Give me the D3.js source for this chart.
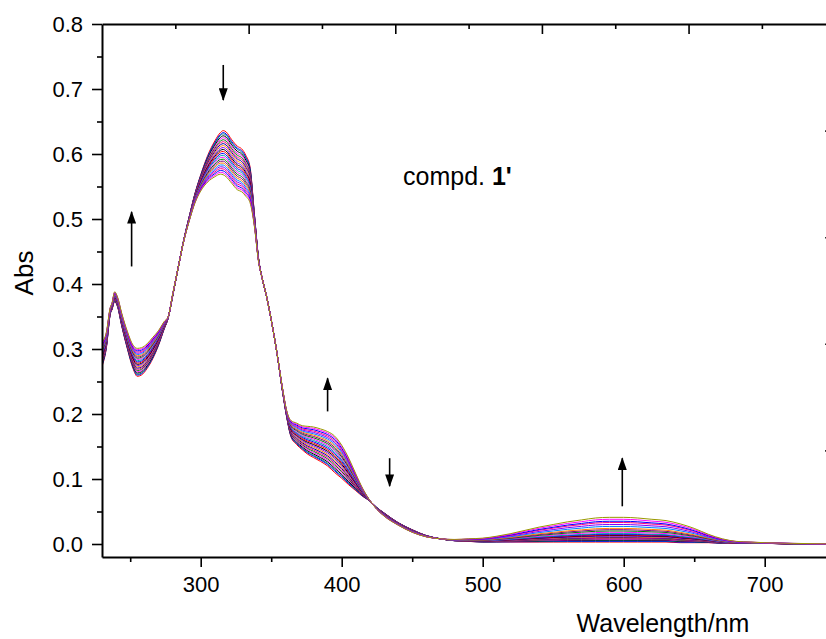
<!DOCTYPE html>
<html lang="en">
<head>
<meta charset="UTF-8">
<title>compd. 1' absorption spectra</title>
<script src="https://cdn.jsdelivr.net/npm/d3@7"></script>
<style>
    body { margin: 0; background: #fff; }
    svg text { font-family: "Liberation Sans", Arial, sans-serif; fill: #000; }
</style>
</head>
<body>
<svg id="chart" width="826" height="639"></svg>
<script>
    // wavelength grid (nm) and the first / last scans
    var wavelengths = [230, 233, 236, 237, 239, 241, 244, 248, 252, 255, 258, 262, 266, 270, 274, 277, 280, 284, 288, 292,
        296, 300, 305, 310, 314, 316, 318, 322, 326, 329, 332, 335, 338, 341, 344, 347, 350, 354, 358, 361,
        364, 368, 372, 376, 380, 385, 390, 395, 400, 405, 410, 415, 420, 425, 430, 440, 450, 460, 470, 480,
        490, 500, 510, 520, 530, 540, 550, 560, 570, 580, 590, 600, 610, 620, 630, 640, 650, 660, 670, 680,
        690, 700, 720, 750];

    var absFirst = [0.273, 0.300, 0.355, 0.360, 0.373, 0.365, 0.335, 0.300, 0.270, 0.258, 0.260, 0.270, 0.285, 0.305, 0.330, 0.348, 0.380, 0.425, 0.468, 0.505,
        0.540, 0.568, 0.598, 0.620, 0.633, 0.636, 0.634, 0.622, 0.612, 0.608, 0.598, 0.580, 0.510, 0.440, 0.405, 0.378, 0.345, 0.295, 0.235, 0.195,
        0.165, 0.153, 0.145, 0.138, 0.133, 0.127, 0.120, 0.110, 0.101, 0.091, 0.082, 0.073, 0.066, 0.056, 0.048, 0.033, 0.022, 0.013, 0.008, 0.005,
        0.004, 0.003, 0.003, 0.003, 0.003, 0.003, 0.003, 0.003, 0.003, 0.003, 0.003, 0.003, 0.003, 0.003, 0.003, 0.002, 0.002, 0.002, 0.001, 0.001,
        0.001, 0.001, 0.000, 0.000];

    var absLast = [0.310, 0.325, 0.365, 0.370, 0.388, 0.380, 0.355, 0.327, 0.306, 0.301, 0.302, 0.308, 0.318, 0.328, 0.342, 0.350, 0.383, 0.425, 0.466, 0.498,
        0.525, 0.543, 0.557, 0.565, 0.569, 0.568, 0.565, 0.555, 0.545, 0.542, 0.535, 0.525, 0.490, 0.435, 0.405, 0.378, 0.345, 0.295, 0.240, 0.205,
        0.190, 0.186, 0.182, 0.181, 0.180, 0.177, 0.173, 0.166, 0.152, 0.132, 0.108, 0.085, 0.067, 0.053, 0.043, 0.029, 0.018, 0.011, 0.008, 0.007,
        0.008, 0.009, 0.012, 0.016, 0.021, 0.026, 0.030, 0.034, 0.037, 0.040, 0.041, 0.041, 0.040, 0.038, 0.036, 0.031, 0.024, 0.015, 0.008, 0.004,
        0.003, 0.002, 0.001, 0.000];

    // per scan: absorbance read at 316 nm and at 600 nm
    var peak316 = [0.636, 0.633, 0.631, 0.628, 0.625, 0.622, 0.619, 0.616, 0.613, 0.610, 0.607, 0.604,
        0.601, 0.598, 0.595, 0.592, 0.589, 0.586, 0.583, 0.580, 0.577, 0.574, 0.571, 0.568];
    var band600 = [0.003, 0.004, 0.005, 0.006, 0.007, 0.008, 0.009, 0.010, 0.011, 0.012, 0.013, 0.014,
        0.015, 0.016, 0.018, 0.020, 0.022, 0.024, 0.027, 0.030, 0.033, 0.035, 0.038, 0.041];

    var traceColors = ["#FF0000", "#0000FF", "#008080", "#000000", "#FF00FF", "#008000", "#FF0080", "#0000A0",
        "#FF8000", "#8000FF", "#000000", "#FF0000", "#0000FF", "#00A0A0", "#FF00FF", "#008000",
        "#800080", "#FF8000", "#0080FF", "#8000FF", "#FF0080", "#0000FF", "#FF00FF", "#999900"];

    var xTicks = [300, 400, 500, 600, 700];
    var xMinor = [250, 350, 450, 550, 650, 750];
    var yTicks = [0.0, 0.1, 0.2, 0.3, 0.4, 0.5, 0.6, 0.7, 0.8];
    var yMinor = [0.05, 0.15, 0.25, 0.35, 0.45, 0.55, 0.65, 0.75];

    // arrows: wavelength, tail absorbance, head absorbance
    var arrows = [
        { w: 251, from: 0.427, to: 0.511 },
        { w: 316, from: 0.737, to: 0.683 },
        { w: 390, from: 0.204, to: 0.255 },
        { w: 434, from: 0.132, to: 0.089 },
        { w: 599, from: 0.058, to: 0.132 }
    ];

    var svg = d3.select("#chart");
    var x = d3.scaleLinear().domain([230, 750]).range([102, 835.2]);
    var y = d3.scaleLinear().domain([-0.02, 0.8]).range([557, 24]);

    var p0 = peak316[0], p1 = peak316[peak316.length - 1];
    var b0 = band600[0], b1 = band600[band600.length - 1];
    var traces = peak316.map(function (p, i) {
        var fUV = (p0 - p) / (p0 - p1);
        var fVis = (band600[i] - b0) / (b1 - b0);
        return wavelengths.map(function (w, j) {
            var f = w < 465 ? fUV : fVis;
            return { w: w, a: absFirst[j] + f * (absLast[j] - absFirst[j]) };
        });
    });

    var defs = svg.append("defs");
    defs.append("clipPath").attr("id", "plotClip")
        .append("rect")
        .attr("x", x(230)).attr("y", y(0.8))
        .attr("width", x(750) - x(230)).attr("height", y(-0.02) - y(0.8));

    defs.append("marker")
        .attr("id", "head")
        .attr("viewBox", "0 0 14 10")
        .attr("refX", 13).attr("refY", 5)
        .attr("markerWidth", 13).attr("markerHeight", 9)
        .attr("markerUnits", "userSpaceOnUse")
        .attr("orient", "auto")
        .append("path")
        .attr("d", "M0,0 L14,5 L0,10 Z")
        .attr("fill", "#000");

    var line = d3.line()
        .x(function (d) { return x(d.w); })
        .y(function (d) { return y(d.a); })
        .curve(d3.curveMonotoneX);

    svg.append("g")
        .attr("clip-path", "url(#plotClip)")
        .selectAll("path")
        .data(traces)
        .enter().append("path")
        .attr("d", line)
        .attr("fill", "none")
        .attr("stroke-width", 1)
        .attr("stroke", function (d, i) { return traceColors[i]; });

    // axes
    function styleAxis(g) {
        g.selectAll(".domain").attr("stroke", "#000").attr("stroke-width", 2);
        g.selectAll(".tick line").attr("stroke", "#000").attr("stroke-width", 1.6);
        g.selectAll(".tick text").style("font-size", "22px");
    }

    svg.append("g")
        .attr("transform", "translate(0," + y(-0.02) + ")")
        .call(d3.axisBottom(x).tickValues(xTicks).tickSize(10).tickSizeOuter(0).tickPadding(9).tickFormat(d3.format("d")))
        .call(styleAxis);
    svg.append("g")
        .attr("transform", "translate(0," + y(-0.02) + ")")
        .call(d3.axisBottom(x).tickValues(xMinor).tickSize(5).tickFormat(""))
        .call(styleAxis)
        .select(".domain").remove();

    svg.append("g")
        .attr("transform", "translate(" + x(230) + ",0)")
        .call(d3.axisLeft(y).tickValues(yTicks).tickSize(10).tickSizeOuter(0).tickPadding(9).tickFormat(d3.format(".1f")))
        .call(styleAxis);
    svg.append("g")
        .attr("transform", "translate(" + x(230) + ",0)")
        .call(d3.axisLeft(y).tickValues(yMinor).tickSize(5).tickFormat(""))
        .call(styleAxis)
        .select(".domain").remove();

    // top and right frame axes with inward ticks, no labels
    var topScale = d3.scaleLinear().domain([0, 10]).range(x.range());
    svg.append("g")
        .attr("transform", "translate(0," + y(0.8) + ")")
        .call(d3.axisBottom(topScale).tickValues([2, 4, 6, 8]).tickSize(10).tickSizeOuter(0).tickFormat(""))
        .call(styleAxis);
    svg.append("g")
        .attr("transform", "translate(0," + y(0.8) + ")")
        .call(d3.axisBottom(topScale).tickValues([1, 3, 5, 7, 9]).tickSize(5).tickFormat(""))
        .call(styleAxis)
        .select(".domain").remove();

    var rightScale = d3.scaleLinear().domain([0, 5]).range(y.range());
    svg.append("g")
        .attr("transform", "translate(" + x(750) + ",0)")
        .call(d3.axisLeft(rightScale).tickValues([1, 2, 3, 4]).tickSize(10).tickSizeOuter(0).tickFormat(""))
        .call(styleAxis);

    // axis titles
    svg.append("text")
        .attr("transform", "translate(33,273) rotate(-90)")
        .attr("text-anchor", "middle")
        .style("font-size", "26px")
        .text("Abs");
    svg.append("text")
        .attr("x", 663).attr("y", 632)
        .attr("text-anchor", "middle")
        .style("font-size", "25px")
        .text("Wavelength/nm");

    // label
    var lab = svg.append("text")
        .attr("x", 403).attr("y", 185)
        .style("font-size", "25px");
    lab.append("tspan").text("compd. ");
    lab.append("tspan").style("font-weight", "bold").text("1'");

    // arrows
    svg.append("g")
        .selectAll("line")
        .data(arrows)
        .enter().append("line")
        .attr("x1", function (d) { return x(d.w); })
        .attr("x2", function (d) { return x(d.w); })
        .attr("y1", function (d) { return y(d.from); })
        .attr("y2", function (d) { return y(d.to); })
        .attr("stroke", "#000")
        .attr("stroke-width", 1.6)
        .attr("marker-end", "url(#head)");
</script>
</body>
</html>
